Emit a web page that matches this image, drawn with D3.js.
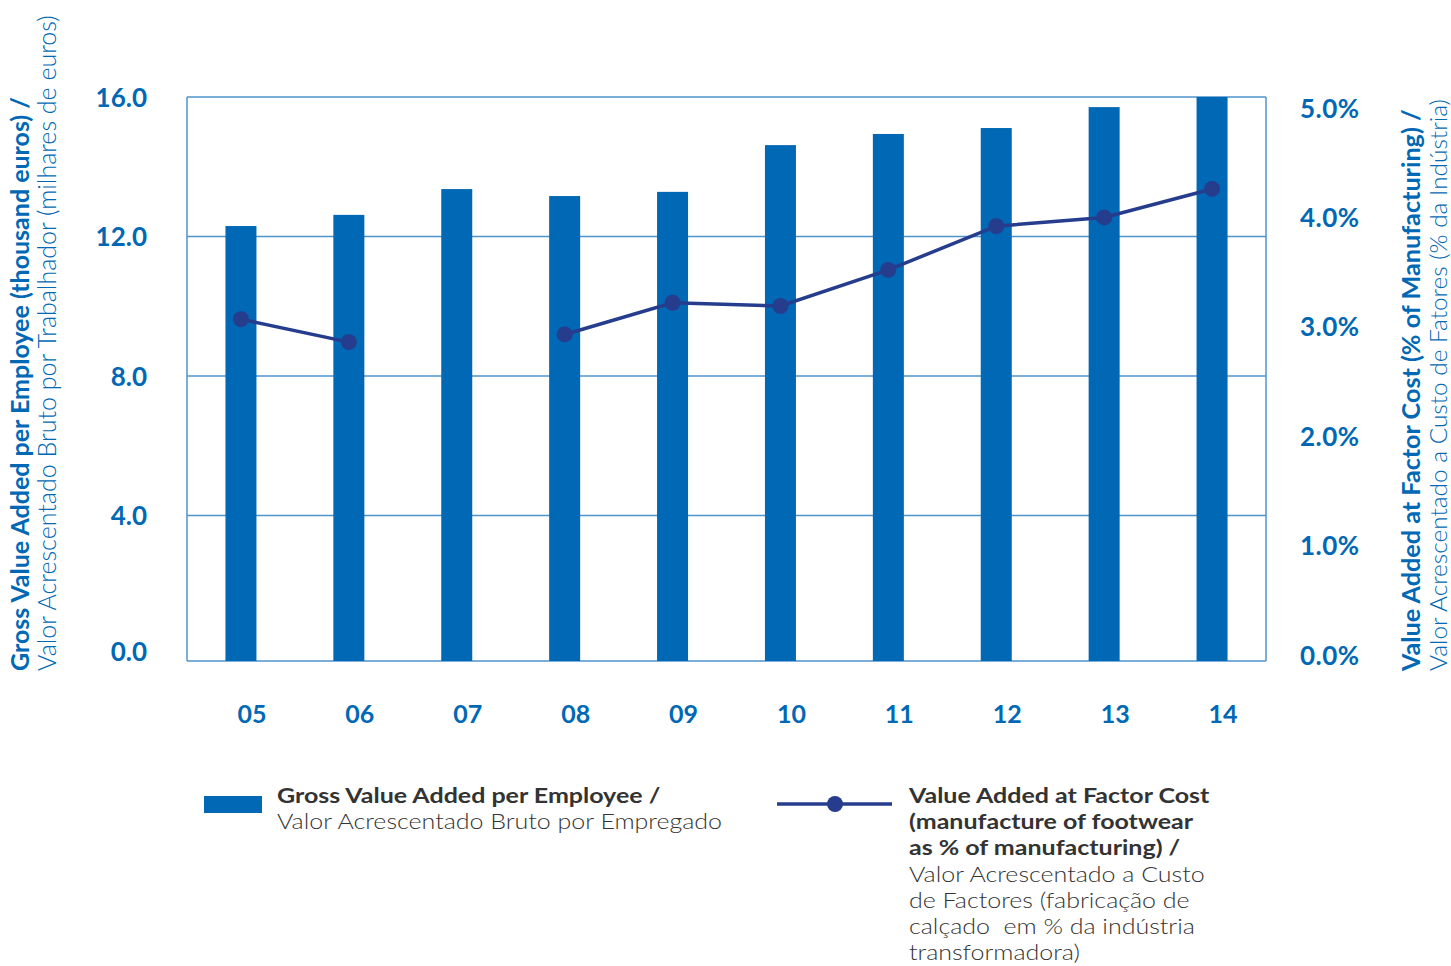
<!DOCTYPE html>
<html>
<head>
<meta charset="utf-8">
<script src="https://cdn.jsdelivr.net/npm/d3@7"></script>
<style>
  body { margin: 0; background: #fff; }
  svg text { font-family: Lato, "Open Sans", sans-serif; }
</style>
</head>
<body>
<div id="chart"></div>
<script>
// data
const years = ['05', '06', '07', '08', '09', '10', '11', '12', '13', '14'];
const gvaPerEmployee = [12.3, 12.62, 13.36, 13.16, 13.28, 14.62, 14.94, 15.11, 15.71, 16.0];
const vaFactorCost = [3.07, 2.86, null, 2.93, 3.22, 3.19, 3.52, 3.92, 4.0, 4.26];
const leftTicks = [0, 4, 8, 12, 16];
const rightTicks = [0, 1, 2, 3, 4, 5];

const width = 1451, height = 966;
const blue = '#0068b4', navy = '#263d8e', grid = '#4f93cb', textDark = '#333';

const svg = d3.select('#chart').append('svg')
    .attr('width', width)
    .attr('height', height);

// plot frame
const plotLeft = 187, plotRight = 1266, plotTop = 97, baseline = 661;

const x = d3.scaleBand()
    .domain(years)
    .range([plotLeft, plotRight]);

const y = d3.scaleLinear()
    .domain([0, 16])
    .range([655, plotTop]);

const y2 = d3.scaleLinear()
    .domain([0, 5])
    .range([655, 108]);

// gridlines
svg.append('g')
    .selectAll('line')
    .data(leftTicks.filter(d => d > 0))
    .enter().append('line')
        .attr('x1', plotLeft).attr('x2', plotRight)
        .attr('y1', d => y(d)).attr('y2', d => y(d))
        .style('stroke', grid).style('stroke-width', 1.5);

// frame sides and bottom
svg.append('line')
    .attr('x1', plotLeft).attr('x2', plotLeft).attr('y1', plotTop).attr('y2', baseline)
    .style('stroke', grid).style('stroke-width', 1.5);
svg.append('line')
    .attr('x1', plotRight).attr('x2', plotRight).attr('y1', plotTop).attr('y2', baseline)
    .style('stroke', grid).style('stroke-width', 1.5);
svg.append('line')
    .attr('x1', plotLeft).attr('x2', plotRight).attr('y1', baseline).attr('y2', baseline)
    .style('stroke', grid).style('stroke-width', 1.5);

// bars
const barW = 31;
svg.append('g')
    .selectAll('rect')
    .data(years)
    .enter().append('rect')
        .attr('x', (d) => x(d) + x.bandwidth() / 2 - barW / 2)
        .attr('y', (d, i) => y(gvaPerEmployee[i]))
        .attr('width', barW)
        .attr('height', (d, i) => baseline - y(gvaPerEmployee[i]))
        .style('fill', blue);

// line series
const pts = years.map((d, i) => ({ year: d, v: vaFactorCost[i] }));
const line = d3.line()
    .defined(d => d.v !== null)
    .x(d => x(d.year) + x.bandwidth() / 2)
    .y(d => y2(d.v));

svg.append('path')
    .datum(pts)
    .attr('d', line)
    .style('fill', 'none')
    .style('stroke', navy)
    .style('stroke-width', 3.5);

svg.append('g')
    .selectAll('circle')
    .data(pts.filter(d => d.v !== null))
    .enter().append('circle')
        .attr('cx', d => x(d.year) + x.bandwidth() / 2)
        .attr('cy', d => y2(d.v))
        .attr('r', 8)
        .style('fill', navy);

// left axis
const yAxis = d3.axisLeft(y)
    .tickValues(leftTicks)
    .tickFormat(d3.format('.1f'))
    .tickSize(0)
    .tickPadding(0);
const gy = svg.append('g')
    .attr('transform', 'translate(147,0)')
    .call(yAxis);
gy.select('.domain').remove();
gy.selectAll('text')
    .style('font-size', '26px').style('font-weight', 'bold')
    .style('fill', blue).attr('dy', '0.35em');
gy.selectAll('.tick').filter(d => d === 0).select('text').attr('dy', '0.2em');

// right axis
const yAxis2 = d3.axisRight(y2)
    .tickValues(rightTicks)
    .tickFormat(d => d3.format('.1f')(d) + '%')
    .tickSize(0)
    .tickPadding(0);
const gy2 = svg.append('g')
    .attr('transform', 'translate(1300,0)')
    .call(yAxis2);
gy2.select('.domain').remove();
gy2.selectAll('text')
    .style('font-size', '26px').style('font-weight', 'bold')
    .style('letter-spacing', '0.5px')
    .style('fill', blue).attr('dy', '0.35em');

// x axis
const xAxis = d3.axisBottom(x).tickSize(0).tickPadding(0);
const gx = svg.append('g')
    .attr('transform', 'translate(11,723)')
    .call(xAxis);
gx.select('.domain').remove();
gx.selectAll('text')
    .attr('dy', 0)
    .style('font-size', '25px').style('font-weight', 'bold')
    .style('fill', blue);

// axis titles
function vTitle(cx, bold, light, bs, ls) {
    const t = svg.append('text')
        .attr('transform', 'translate(' + cx + ',671) rotate(-90)')
        .style('fill', blue);
    t.append('tspan').attr('x', 0).attr('y', 0)
        .style('font-size', bs + 'px').style('font-weight', 'bold')
        .text(bold);
    t.append('tspan').attr('x', 0).attr('y', 27)
        .style('font-size', ls + 'px').style('font-weight', 300)
        .text(light);
}
vTitle(29, 'Gross Value Added per Employee (thousand euros) /',
    'Valor Acrescentado Bruto por Trabalhador (milhares de euros)', 25, 25);
vTitle(1420, 'Value Added at Factor Cost (% of Manufacturing) /',
    'Valor Acrescentado a Custo de Fatores (% da Indústria)', 25.2, 24.4);

// legend
const lg = svg.append('g');
lg.append('rect')
    .attr('x', 204).attr('y', 796).attr('width', 58).attr('height', 17)
    .style('fill', blue);

lg.append('line')
    .attr('x1', 777).attr('x2', 892).attr('y1', 804).attr('y2', 804)
    .style('stroke', navy).style('stroke-width', 3.5);
lg.append('circle')
    .attr('cx', 835).attr('cy', 804).attr('r', 8)
    .style('fill', navy);

// legend text: a bit smaller and stretched sideways so the lines keep apart
function legendText(x0, boldLines, lightLines) {
    const g = lg.append('g')
        .attr('transform', 'translate(' + x0 + ',0) scale(1.147,1)');
    const rows = boldLines.map(s => ({ s: s, w: 'bold' }))
        .concat(lightLines.map(s => ({ s: s, w: 300 })));
    g.selectAll('text')
        .data(rows)
        .enter().append('text')
            .attr('x', 0)
            .attr('y', (d, i) => 803 + i * 26.2)
            .style('font-size', '21.8px')
            .style('font-weight', d => d.w)
            .style('fill', textDark)
            .style('white-space', 'pre')
            .text(d => d.s);
}
legendText(277, ['Gross Value Added per Employee /'], ['Valor Acrescentado Bruto por Empregado']);
legendText(909,
    ['Value Added at Factor Cost', '(manufacture of footwear', 'as % of manufacturing) /'],
    ['Valor Acrescentado a Custo', 'de Factores (fabricação de', 'calçado  em % da indústria', 'transformadora)']);
</script>
</body>
</html>
